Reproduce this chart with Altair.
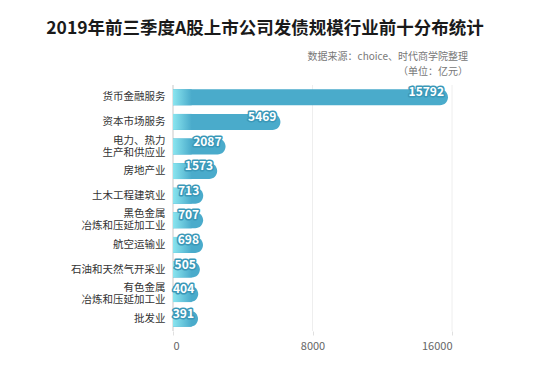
import altair as alt
import pandas as pd

# ---- data ----
categories = ["货币金融服务", "资本市场服务", "电力、热力|生产和供应业", "房地产业", "土木工程建筑业",
              "黑色金属|冶炼和压延加工业", "航空运输业", "石油和天然气开采业", "有色金属|冶炼和压延加工业", "批发业"]
values = [15792, 5469, 2087, 1573, 713, 707, 698, 505, 404, 391]
x_ticks = [0, 8000, 16000]

title_text = ["2019年前三季度A股上市公司发债规模行业前十分布统计"]
source_text = ["数据来源：choice、时代商学院整理"]
unit_text = ["（单位：亿元）"]

df = pd.DataFrame({"cat": categories, "val": values})
ticks_df = pd.DataFrame({"t": x_ticks})

W, H = 279, 246
FONT = "Noto Sans CJK SC"
BLUE = "#4aabcb"
LIGHT = "#8ae5ef"
BAR_DOMAIN = [-1150, 16040]

bar_scale = alt.Scale(domain=BAR_DOMAIN, nice=False, zero=False)

y_enc = alt.Y(
    "cat:N", sort=categories,
    scale=alt.Scale(paddingInner=0.35, paddingOuter=0.175),
    axis=alt.Axis(title=None, labelExpr="split(datum.value, '|')", ticks=False, domain=False,
                  labelPadding=8, labelFontSize=10.5, labelColor="#333333", labelFont=FONT,
                  labelLineHeight=12,
                  labelOffset=alt.condition("indexof(datum.value, '|') >= 0",
                                            alt.value(-6), alt.value(0))),
)

# gridlines + x axis (axis scale)
grid = alt.Chart(ticks_df).mark_rule(strokeWidth=1).encode(
    x=alt.X("t:Q", scale=alt.Scale(domain=[0, 16000], nice=False),
            axis=alt.Axis(values=x_ticks, title=None, grid=False, domain=False,
                          tickColor="#e0e0e0", tickSize=4, labelPadding=5,
                          labelFontSize=11, labelColor="#666666", labelFont=FONT, format="d")),
    color=alt.condition(alt.datum.t == 0, alt.value("#c8c8c8"), alt.value("#eeeeee")),
)

base = alt.Chart(df)

bars = base.mark_bar(color=BLUE, cornerRadiusTopRight=8, cornerRadiusBottomRight=8).encode(
    x=alt.X("val:Q", scale=bar_scale, axis=None),
    x2=alt.datum(BAR_DOMAIN[0]),
    y=y_enc,
)

grad = alt.Gradient(
    gradient="linear",
    stops=[alt.GradientStop(color=LIGHT, offset=0), alt.GradientStop(color=BLUE, offset=1)],
    x1=0, x2=1, y1=0, y2=0,
)
bar_start = base.mark_bar(color=grad).encode(
    x=alt.X(datum=BAR_DOMAIN[0], type="quantitative", scale=bar_scale, axis=None),
    x2=alt.datum(0),
    y=y_enc,
)

label_kw = dict(align="right", baseline="middle", dx=-4, dy=-5, fontSize=12,
                fontWeight="bold", font=FONT)
label_stroke = base.mark_text(fill="#3a98b8", stroke="#3a98b8", strokeWidth=3,
                              strokeJoin="round", **label_kw).encode(
    x=alt.X("val:Q", scale=bar_scale, axis=None),
    y=y_enc,
    text=alt.Text("val:Q", format="d"),
)
label_fill = base.mark_text(fill="white", **label_kw).encode(
    x=alt.X("val:Q", scale=bar_scale, axis=None),
    y=y_enc,
    text=alt.Text("val:Q", format="d"),
)

inner = alt.layer(bars, bar_start, label_stroke, label_fill)

title = alt.Chart(pd.DataFrame({"t": title_text})).mark_text(
    align="center", baseline="middle", fontSize=17.5, fontWeight="bold", font=FONT, color="#1a1a1a"
).encode(text="t:N", x=alt.value(92), y=alt.value(-56))

source = alt.Chart(pd.DataFrame({"t": source_text})).mark_text(
    align="right", baseline="middle", fontSize=10, font=FONT, color="#777777"
).encode(text="t:N", x=alt.value(295), y=alt.value(-28))

unit = alt.Chart(pd.DataFrame({"t": unit_text})).mark_text(
    align="right", baseline="middle", fontSize=10, font=FONT, color="#777777"
).encode(text="t:N", x=alt.value(295), y=alt.value(-13))

chart = alt.layer(grid, inner, title, source, unit).resolve_scale(x="independent").properties(
    width=W, height=H,
    autosize=alt.AutoSizeParams(type="none"),
    padding={"left": 173, "top": 85, "right": 98, "bottom": 37},
    background="white",
).configure_view(stroke=None)

chart.save("out.html", embed_options={"renderer": "svg", "actions": False})
